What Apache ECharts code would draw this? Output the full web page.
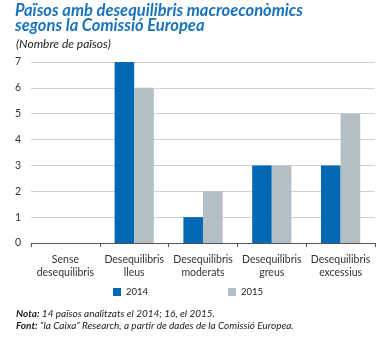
<!DOCTYPE html>
<html><head><meta charset="utf-8">
<script src="https://cdn.jsdelivr.net/npm/echarts@6/dist/echarts.min.js"></script>
<style>html,body{margin:0;padding:0;background:#fff}#c{width:381px;height:338px}</style>
</head><body><div id="c"></div>
<script>
const categories = ['Sense\ndesequilibris','Desequilibris\nlleus','Desequilibris\nmoderats','Desequilibris\ngreus','Desequilibris\nexcessius'];
const seriesNames = ['2014','2015'];
const values2014 = [0,7,1,3,3];
const values2015 = [0,6,2,3,5];
const yTicks = [0,1,2,3,4,5,6,7];

const FONT = 'Lato, "Open Sans", sans-serif';
const chart = echarts.init(document.getElementById('c'), null, {renderer:'canvas'});
chart.setOption({
  animation:false,
  textStyle:{fontFamily:FONT},
  title:[
    {text:'Països amb desequilibris macroeconòmics\nsegons la Comissió Europea', left:10, top:-2,
     textStyle:{fontFamily:FONT, fontSize:16.5, fontWeight:'bold', fontStyle:'italic', color:'#1a72bb', lineHeight:15}},
    {text:'(Nombre de països)', left:11, top:33,
     textStyle:{fontFamily:FONT, fontSize:12, fontWeight:'normal', fontStyle:'italic', color:'#222'}},
    {text:'{b|Nota:} 14 països analitzats el 2014; 16, el 2015.\n{b|Font:} “la Caixa” Research, a partir de dades de la Comissió Europea.', left:11, top:303,
     textStyle:{fontFamily:FONT, fontSize:10, fontStyle:'italic', fontWeight:'normal', color:'#222', lineHeight:12,
       rich:{b:{fontFamily:FONT, fontSize:10, fontStyle:'italic', fontWeight:'bold', color:'#222'}}}}
  ],
  legend:{left:108, top:282, itemWidth:8, itemHeight:8, itemGap:80, icon:'rect',
    textStyle:{fontFamily:FONT, fontSize:9.5, color:'#222', padding:[0,0,0,0]},
    data:seriesNames},
  grid:{left:31, right:6, top:62, bottom:95, containLabel:false},
  xAxis:{type:'category', data:categories,
    axisLine:{lineStyle:{color:'#555', width:1}},
    axisTick:{show:true, length:4, lineStyle:{color:'#555'}},
    axisLabel:{fontFamily:FONT, fontSize:10.5, color:'#333', lineHeight:13, margin:10, interval:0}},
  yAxis:{type:'value', min:yTicks[0], max:yTicks[yTicks.length-1], interval:1,
    axisLine:{show:false}, axisTick:{show:false},
    axisLabel:{fontFamily:FONT, fontSize:10.5, color:'#333', margin:10},
    splitLine:{lineStyle:{color:'#d0d0d0', width:1}}},
  series:[
    {name:seriesNames[0], type:'bar', data:values2014, barGap:'0%', barCategoryGap:'43%', itemStyle:{color:'#0068b4'}},
    {name:seriesNames[1], type:'bar', data:values2015, barGap:'0%', barCategoryGap:'43%', itemStyle:{color:'#b3bfc4'}}
  ]
});
</script></body></html>
